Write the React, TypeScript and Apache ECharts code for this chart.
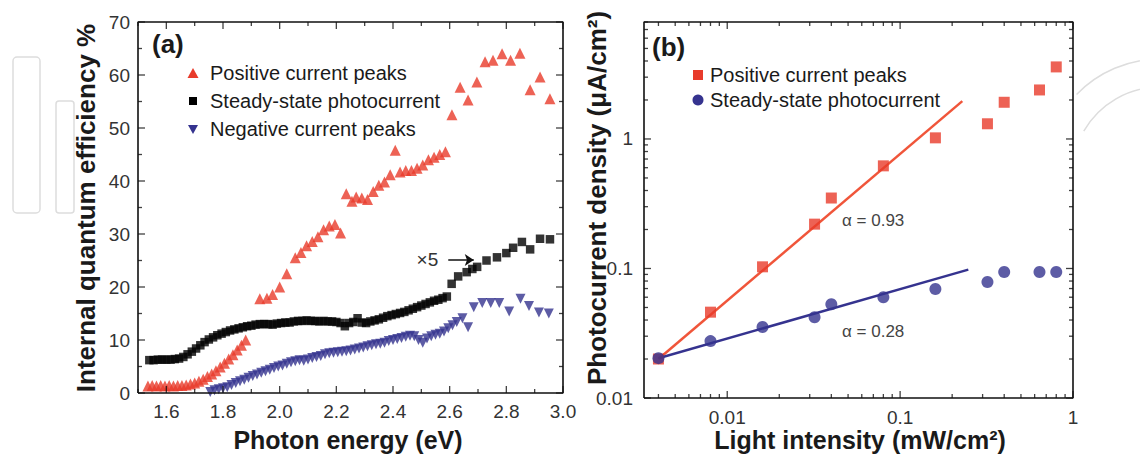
import React, { useEffect, useRef } from 'react';
import * as echarts from 'echarts';

const FONT = 'Liberation Sans, Arial, Helvetica, sans-serif';

// ---------- Panel (a) data: photon energy (eV) vs internal quantum efficiency (%) ----------
const positivePeaksA: [number, number][] = [
  [1.535, 1.3], [1.55, 1.4], [1.565, 1.3], [1.58, 1.4], [1.595, 1.3], [1.61, 1.4], [1.625, 1.3],
  [1.64, 1.4], [1.655, 1.4], [1.67, 1.5], [1.685, 1.7], [1.7, 1.9], [1.715, 2.2], [1.73, 2.6],
  [1.745, 3.1], [1.76, 3.6], [1.775, 4.2], [1.79, 4.9], [1.805, 5.6], [1.82, 6.4], [1.835, 7.2],
  [1.85, 8.1], [1.865, 9.0], [1.88, 10.0], [1.93, 17.8], [1.955, 17.9], [1.975, 18.6], [2.0, 20.0],
  [2.025, 22.5], [2.055, 25.5], [2.075, 26.5], [2.095, 27.8], [2.115, 28.6], [2.135, 29.5],
  [2.155, 30.8], [2.175, 31.5], [2.195, 31.8], [2.215, 30.2], [2.235, 37.6], [2.255, 36.2],
  [2.27, 37.0], [2.29, 36.8], [2.31, 36.5], [2.33, 38.0], [2.35, 39.2], [2.37, 39.8], [2.39, 41.2],
  [2.408, 45.8], [2.425, 41.7], [2.445, 42.0], [2.465, 42.0], [2.485, 42.4], [2.505, 43.0],
  [2.525, 44.0], [2.545, 44.5], [2.565, 45.0], [2.585, 45.5], [2.608, 52.5], [2.637, 57.7],
  [2.665, 55.3], [2.696, 58.7], [2.725, 62.5], [2.753, 62.8], [2.785, 64.0], [2.815, 62.8],
  [2.848, 64.1], [2.884, 57.2], [2.919, 59.6], [2.954, 55.5],
];

const steadyStateA: [number, number][] = [
  [1.54, 6.2], [1.555, 6.2], [1.57, 6.3], [1.585, 6.3], [1.6, 6.3], [1.615, 6.3], [1.63, 6.4],
  [1.645, 6.5], [1.66, 6.8], [1.675, 7.3], [1.69, 7.8], [1.705, 8.4], [1.72, 9.0], [1.735, 9.6],
  [1.75, 10.1], [1.765, 10.5], [1.78, 10.9], [1.795, 11.2], [1.81, 11.5], [1.825, 11.8],
  [1.84, 12.0], [1.855, 12.2], [1.87, 12.4], [1.885, 12.6], [1.9, 12.7], [1.915, 12.9],
  [1.93, 13.0], [1.945, 13.0], [1.96, 13.0], [1.975, 12.9], [1.99, 13.1], [2.005, 13.2],
  [2.02, 13.3], [2.035, 13.3], [2.05, 13.5], [2.065, 13.6], [2.08, 13.6], [2.095, 13.7],
  [2.11, 13.6], [2.125, 13.6], [2.14, 13.5], [2.155, 13.6], [2.17, 13.5], [2.185, 13.5],
  [2.2, 13.4], [2.215, 13.2], [2.23, 12.6], [2.245, 13.2], [2.26, 13.4], [2.275, 14.1],
  [2.29, 13.3], [2.305, 13.2], [2.32, 13.5], [2.335, 13.7], [2.35, 13.9], [2.365, 14.2],
  [2.38, 14.5], [2.395, 14.7], [2.41, 14.9], [2.425, 15.1], [2.44, 15.3], [2.455, 15.6],
  [2.47, 15.9], [2.485, 16.2], [2.5, 16.5], [2.515, 16.8], [2.53, 17.1], [2.545, 17.4],
  [2.56, 17.6], [2.575, 17.9], [2.59, 18.2], [2.607, 20.6], [2.63, 22.0], [2.66, 22.8],
  [2.68, 23.4], [2.697, 23.8], [2.73, 25.0], [2.767, 25.6], [2.8, 26.4], [2.824, 27.4],
  [2.855, 28.5], [2.884, 27.1], [2.919, 29.1], [2.954, 29.0],
];

const negativePeaksA: [number, number][] = [
  [1.755, 0.2], [1.77, 0.5], [1.785, 0.7], [1.8, 0.9], [1.815, 1.1], [1.83, 1.5], [1.845, 1.9],
  [1.86, 2.2], [1.875, 2.5], [1.89, 2.9], [1.905, 3.2], [1.92, 3.5], [1.935, 3.8], [1.95, 4.1],
  [1.965, 4.4], [1.98, 4.7], [1.995, 5.0], [2.01, 5.2], [2.025, 5.5], [2.04, 5.8], [2.055, 6.0],
  [2.07, 6.2], [2.085, 6.1], [2.1, 6.3], [2.115, 6.6], [2.13, 6.8], [2.145, 7.0], [2.16, 7.3],
  [2.175, 7.5], [2.19, 7.6], [2.205, 7.7], [2.22, 7.8], [2.235, 7.9], [2.25, 8.0], [2.265, 8.2],
  [2.28, 8.4], [2.295, 8.6], [2.31, 8.8], [2.325, 9.0], [2.34, 9.2], [2.355, 9.3], [2.37, 9.5],
  [2.385, 9.8], [2.4, 10.0], [2.415, 10.2], [2.43, 10.4], [2.445, 10.6], [2.46, 10.8],
  [2.475, 10.7], [2.49, 10.0], [2.505, 9.5], [2.52, 10.3], [2.535, 10.7], [2.55, 11.0],
  [2.565, 11.2], [2.58, 11.6], [2.595, 12.2], [2.61, 12.8], [2.625, 13.4], [2.645, 14.1],
  [2.665, 12.4], [2.685, 16.2], [2.715, 17.0], [2.745, 17.0], [2.775, 17.0], [2.81, 15.4],
  [2.85, 17.8], [2.88, 16.4], [2.915, 15.2], [2.95, 15.0],
];

// "x5" arrow annotation (data coordinates)
const arrowFromA: [number, number] = [2.595, 25.1];
const arrowToA: [number, number] = [2.685, 25.1];

// axis ranges and ticks, panel (a)
const xRangeA: [number, number] = [1.5, 3.0];
const yRangeA: [number, number] = [0, 70];
const xTickLabelsA = [1.6, 1.8, 2.0, 2.2, 2.4, 2.6, 2.8, 3.0];
const xMinorTicksA = [1.5, 1.7, 1.9, 2.1, 2.3, 2.5, 2.7, 2.9];
const yTickLabelsA = [0, 10, 20, 30, 40, 50, 60, 70];
const yMinorTicksA = [5, 15, 25, 35, 45, 55, 65];

// ---------- Panel (b) data: light intensity (mW/cm2) vs photocurrent density (uA/cm2) ----------
const intensityB = [0.004, 0.008, 0.016, 0.032, 0.04, 0.08, 0.16, 0.32, 0.4, 0.64, 0.8];
const positivePeaksB = [0.02, 0.046, 0.103, 0.22, 0.35, 0.62, 1.02, 1.31, 1.92, 2.39, 3.6];
const steadyStateB = [0.0203, 0.0275, 0.0353, 0.042, 0.053, 0.06, 0.0695, 0.0787, 0.094, 0.094, 0.094];
const fitPositiveB: [number, number][] = [[0.004, 0.02], [0.229, 1.96]];
const fitSteadyB: [number, number][] = [[0.004, 0.0203], [0.248, 0.098]];

// axis ranges and ticks, panel (b) (log-log)
const xRangeB = [0.0033, 1];
const yRangeB = [0.01, 8];
const decadeLabelsB = [0.01, 0.1, 1];
const xMinorB = [0.004, 0.005, 0.006, 0.007, 0.008, 0.009, 0.02, 0.03, 0.04, 0.05, 0.06, 0.07, 0.08, 0.09, 0.2, 0.3, 0.4, 0.5, 0.6, 0.7, 0.8, 0.9];
const yMinorB = [0.02, 0.03, 0.04, 0.05, 0.06, 0.07, 0.08, 0.09, 0.2, 0.3, 0.4, 0.5, 0.6, 0.7, 0.8, 0.9, 2, 3, 4, 5, 6, 7, 8];

const L = Math.log10;

const RED = '#e83b2b';
const RED_LINE = '#f0553a';
const BLUE = '#35338f';
const BLACK = '#111111';
const LABEL = '#333333';

const fmtA = (v: number) => v.toFixed(1);
const fmtLog = (v: number) => {
  let best = decadeLabelsB[0];
  decadeLabelsB.forEach((d) => {
    if (Math.abs(L(d) - v) < Math.abs(L(best) - v)) best = d;
  });
  return String(best);
};

function axis(gridIndex: number, position: string, range: [number, number], labels: number[], formatter: (v: number) => string, margin: number) {
  return {
    type: 'value',
    gridIndex,
    position,
    min: range[0],
    max: range[1],
    axisLine: { show: false, onZero: false },
    axisTick: { show: false },
    splitLine: { show: false },
    axisLabel: {
      show: true,
      customValues: labels,
      formatter,
      margin,
      fontSize: 19,
      color: LABEL,
      fontFamily: FONT,
    },
  };
}

const xRangeBL: [number, number] = [L(xRangeB[0]), L(xRangeB[1])];
const yRangeBL: [number, number] = [L(yRangeB[0]), L(yRangeB[1])];
const decB = decadeLabelsB.map(L);

const xAxes = [
  axis(0, 'bottom', xRangeA, xTickLabelsA, fmtA, 9),
  axis(1, 'bottom', xRangeBL, decB, fmtLog, 10),
];
const yAxes = [
  axis(0, 'left', yRangeA, yTickLabelsA, (v) => String(v), 8),
  axis(1, 'left', yRangeBL, decB, fmtLog, 11),
];

// frame of a panel, drawn as a closed line through the corners of the axes' ranges
function frame(gi: number, xr: [number, number], yr: [number, number]) {
  return {
    type: 'line',
    xAxisIndex: gi,
    yAxisIndex: gi,
    silent: true,
    clip: false,
    showSymbol: false,
    symbol: 'none',
    z: 6,
    lineStyle: { color: BLACK, width: 1.6 },
    data: [[xr[0], yr[0]], [xr[1], yr[0]], [xr[1], yr[1]], [xr[0], yr[1]], [xr[0], yr[0]]],
  };
}

// inward ticks on one side, drawn as thin rect markers placed by the axes' scales
function ticks(gi: number, side: 'bottom' | 'top' | 'left' | 'right', values: number[], len: number, xr: [number, number], yr: [number, number]) {
  const horiz = side === 'left' || side === 'right';
  const data = values.map((v) =>
    side === 'bottom' ? [v, yr[0]] : side === 'top' ? [v, yr[1]] : side === 'left' ? [xr[0], v] : [xr[1], v]
  );
  const offset =
    side === 'bottom' ? [0, -len / 2] : side === 'top' ? [0, len / 2] : side === 'left' ? [len / 2, 0] : [-len / 2, 0];
  return {
    type: 'scatter',
    xAxisIndex: gi,
    yAxisIndex: gi,
    silent: true,
    clip: false,
    z: 6,
    symbol: 'rect',
    symbolSize: horiz ? [len, 1.3] : [1.3, len],
    symbolOffset: offset,
    itemStyle: { color: BLACK },
    emphasis: { disabled: true },
    data,
  };
}

function allTicks(gi: number, xMajor: number[], xMinor: number[], yMajor: number[], yMinor: number[], xr: [number, number], yr: [number, number]) {
  return [
    ticks(gi, 'bottom', xMajor, 7, xr, yr),
    ticks(gi, 'top', xMajor, 7, xr, yr),
    ticks(gi, 'bottom', xMinor, 4, xr, yr),
    ticks(gi, 'top', xMinor, 4, xr, yr),
    ticks(gi, 'left', yMajor, 7, xr, yr),
    ticks(gi, 'right', yMajor, 7, xr, yr),
    ticks(gi, 'left', yMinor, 4, xr, yr),
    ticks(gi, 'right', yMinor, 4, xr, yr),
  ];
}

const logPairs = (xs: number[], ys: number[]) => xs.map((x, i) => [L(x), L(ys[i])]);

const series: any[] = [
  frame(0, xRangeA, yRangeA),
  frame(1, xRangeBL, yRangeBL),
  ...allTicks(0, xTickLabelsA, xMinorTicksA, yTickLabelsA, yMinorTicksA, xRangeA, yRangeA),
  ...allTicks(1, decB, xMinorB.map(L), decB, yMinorB.map(L), xRangeBL, yRangeBL),
  {
    name: 'Steady-state photocurrent',
    type: 'scatter',
    xAxisIndex: 0,
    yAxisIndex: 0,
    symbol: 'rect',
    symbolSize: 8.5,
    itemStyle: { color: '#000' },
    data: steadyStateA,
    z: 3,
    markLine: {
      silent: true,
      symbol: ['none', 'arrow'],
      symbolSize: 9,
      lineStyle: { color: BLACK, width: 1.5, type: 'solid' },
      label: { show: true, position: 'start', formatter: '×5', fontSize: 19, color: LABEL, fontFamily: FONT, distance: 10 },
      data: [[{ coord: arrowFromA }, { coord: arrowToA }]],
    },
  },
  {
    name: 'Negative current peaks',
    type: 'scatter',
    xAxisIndex: 0,
    yAxisIndex: 0,
    symbol: 'triangle',
    symbolRotate: 180,
    symbolSize: 10,
    itemStyle: { color: BLUE },
    data: negativePeaksA,
    z: 4,
  },
  {
    name: 'Positive current peaks',
    type: 'scatter',
    xAxisIndex: 0,
    yAxisIndex: 0,
    symbol: 'triangle',
    symbolSize: 11,
    itemStyle: { color: RED },
    data: positivePeaksA,
    z: 5,
  },
  {
    name: 'Fit positive',
    type: 'line',
    xAxisIndex: 1,
    yAxisIndex: 1,
    showSymbol: false,
    symbol: 'none',
    lineStyle: { color: RED_LINE, width: 2.5 },
    data: fitPositiveB.map(([x, y]) => [L(x), L(y)]),
    z: 2,
  },
  {
    name: 'Fit steady',
    type: 'line',
    xAxisIndex: 1,
    yAxisIndex: 1,
    showSymbol: false,
    symbol: 'none',
    lineStyle: { color: BLUE, width: 2.5 },
    data: fitSteadyB.map(([x, y]) => [L(x), L(y)]),
    z: 2,
  },
  {
    name: 'Positive current peaks (b)',
    type: 'scatter',
    xAxisIndex: 1,
    yAxisIndex: 1,
    symbol: 'rect',
    symbolSize: 11,
    itemStyle: { color: RED },
    data: logPairs(intensityB, positivePeaksB),
    z: 5,
  },
  {
    name: 'Steady-state photocurrent (b)',
    type: 'scatter',
    xAxisIndex: 1,
    yAxisIndex: 1,
    symbol: 'circle',
    symbolSize: 12,
    itemStyle: { color: BLUE },
    data: logPairs(intensityB, steadyStateB),
    z: 5,
  },
];

const txt = (text: string, x: number, y: number, size: number, o: any = {}) => ({
  type: 'text',
  x,
  y,
  rotation: o.rotation ?? 0,
  z: 10,
  style: {
    text,
    x: 0,
    y: 0,
    fill: o.fill ?? '#1a1a1a',
    fontSize: size,
    fontWeight: o.bold ? 'bold' : 'normal',
    fontFamily: FONT,
    align: o.align ?? 'left',
    verticalAlign: 'middle',
  },
});

const WM = '#dddddd';
const deg = (d: number) => (d * Math.PI) / 180;
const graphic: any[] = [
  // faint watermark outlines in the margins
  { type: 'rect', z: 0, shape: { x: 13, y: 57, width: 27, height: 156, r: 4 }, style: { fill: 'none', stroke: WM, lineWidth: 1.5 } },
  { type: 'rect', z: 0, shape: { x: 56, y: 101, width: 18, height: 112, r: 3 }, style: { fill: 'none', stroke: WM, lineWidth: 1.5 } },
  { type: 'arc', z: 0, shape: { cx: 1160, cy: 175, r: 88, startAngle: deg(210), endAngle: deg(270), clockwise: true }, style: { fill: 'none', stroke: WM, lineWidth: 1.5 } },
  { type: 'arc', z: 0, shape: { cx: 1160, cy: 175, r: 116, startAngle: deg(224), endAngle: deg(270), clockwise: true }, style: { fill: 'none', stroke: WM, lineWidth: 1.5 } },

  // panel labels
  txt('(a)', 152, 44, 26, { bold: true }),
  txt('(b)', 652, 47, 26, { bold: true }),

  // axis titles
  txt('Photon energy (eV)', 348, 440, 25, { bold: true, align: 'center' }),
  txt('Light intensity (mW/cm²)', 860, 440, 25, { bold: true, align: 'center' }),
  txt('Internal quantum efficiency %', 86, 208, 26, { bold: true, align: 'center', rotation: Math.PI / 2 }),
  txt('Photocurrent density (μA/cm²)', 597, 198, 26, { bold: true, align: 'center', rotation: Math.PI / 2 }),

  // fit annotations
  txt('α = 0.93', 842, 220, 17, { fill: '#444' }),
  txt('α = 0.28', 842, 331, 17, { fill: '#444' }),

  // legend (a)
  { type: 'polygon', z: 10, shape: { points: [[193, 68], [198.5, 78], [187.5, 78]] }, style: { fill: RED } },
  txt('Positive current peaks', 210, 73, 20),
  { type: 'rect', z: 10, shape: { x: 189, y: 97, width: 8, height: 8 }, style: { fill: '#000' } },
  txt('Steady-state photocurrent', 210, 101, 20),
  { type: 'polygon', z: 10, shape: { points: [[188, 125], [198, 125], [193, 134]] }, style: { fill: BLUE } },
  txt('Negative current peaks', 210, 129, 20),

  // legend (b)
  { type: 'rect', z: 10, shape: { x: 693, y: 70, width: 10, height: 10 }, style: { fill: RED } },
  txt('Positive current peaks', 710, 75, 20),
  { type: 'circle', z: 10, shape: { cx: 698, cy: 100, r: 5.5 }, style: { fill: BLUE } },
  txt('Steady-state photocurrent', 710, 100, 20),
];

const option: any = {
  animation: false,
  backgroundColor: '#ffffff',
  grid: [
    { left: 138, top: 22, width: 425, height: 371 },
    { left: 644, top: 22, width: 429, height: 376 },
  ],
  xAxis: xAxes,
  yAxis: yAxes,
  series,
  graphic,
};

export default function App() {
  const ref = useRef<HTMLDivElement>(null);
  useEffect(() => {
    document.body.style.margin = '0';
    const chart = echarts.init(ref.current!, null, { renderer: 'svg' });
    chart.setOption(option);
    return () => chart.dispose();
  }, []);
  return (
    <div
      ref={ref}
      style={{ position: 'absolute', left: 0, top: 0, width: 1140, height: 457, background: '#fff' }}
    />
  );
}
